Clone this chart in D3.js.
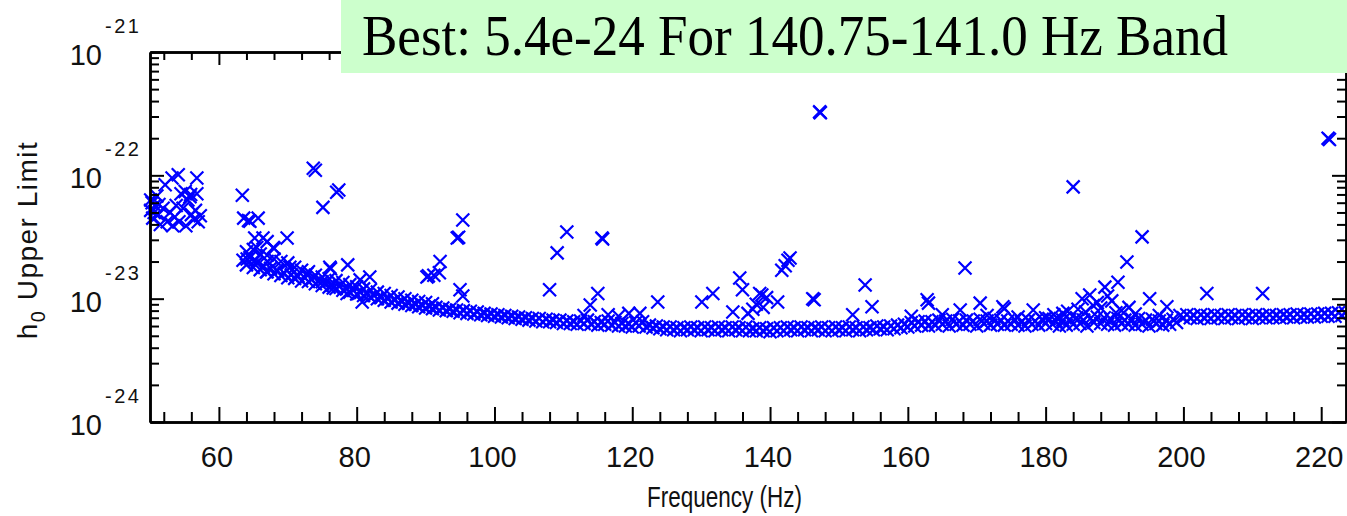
<!DOCTYPE html>
<html>
<head>
<meta charset="utf-8">
<script src="https://cdn.jsdelivr.net/npm/d3@7"></script>
<style>
  body { margin: 0; background: #fff; }
  svg { display: block; font-family: "Liberation Sans", Arial, sans-serif; }
</style>
</head>
<body>
<svg id="chart" width="1347" height="516"></svg>
<script>
// h0 values are in units of 1e-24
const xDomain = [50, 223.6]
const yDomain = [1e-24, 1e-21]
const xMajor = [60, 80, 100, 120, 140, 160, 180, 200, 220]
const yDecades = [-24, -23, -22, -21]
const titleText = 'Best: 5.4e-24 For 140.75-141.0 Hz Band'

// 50-57 Hz cluster
const clusterFreq = [50.1, 50.1, 50.4, 50.7, 51.0, 51.2, 51.5, 51.9, 52.2, 52.5,
  52.9, 53.2, 53.3, 53.8, 54.1, 54.2, 54.5, 54.8, 55.1, 55.2,
  55.5, 55.8, 56.0, 56.4, 56.8, 56.8, 57.0, 57.3, 50.3, 50.6,
  51.3, 53.6, 55.9, 56.6]
const clusterH0 = [63, 52, 45, 57, 68, 48, 40, 54, 84, 42,
  50, 95, 39, 57, 101, 42, 71, 54, 74, 39,
  63, 67, 48, 44, 95, 71, 42, 47, 60, 50,
  58, 46, 70, 52]

// main band, one value per 0.5 Hz from 63.5 Hz
const bandStart = 63.5
const bandStep = 0.5
const bandH0 = [
  20.5, 18.8, 21.5, 17.9, 19.6, 17.2, 18.4, 16.5, 17.6, 15.9,
  16.8, 15.4, 16.1, 14.8, 15.6, 14.6, 15.2, 13.9, 14.7, 13.8,
  14.3, 13.2, 13.9, 12.8, 13.4, 12.4, 12.9, 12.1, 12.6, 11.7,
  12.0, 11.3, 11.7, 10.9, 11.2, 10.6, 10.9, 10.3, 10.6, 10.0,
  10.2, 9.7, 10.0, 9.4, 9.7, 9.2, 9.5, 9.0, 9.2, 8.8,
  9.0, 8.6, 8.8, 8.4, 8.7, 8.3, 8.5, 8.1, 8.4, 8.0,
  8.2, 7.9, 8.1, 7.7, 8.0, 7.6, 7.9, 7.5, 7.8, 7.4,
  7.6, 7.3, 7.5, 7.2, 7.4, 7.1, 7.3, 7.0, 7.2, 6.9,
  7.1, 6.8, 7.0, 6.7, 6.9, 6.6, 6.9, 6.5, 6.8, 6.5,
  6.7, 6.4, 6.7, 6.3, 6.6, 6.3, 6.5, 6.2, 6.6, 6.3,
  6.7, 6.2, 6.5, 6.1, 6.4, 6.2, 6.6, 6.1, 6.4, 6.0,
  6.3, 6.0, 6.2, 5.9, 6.4, 6.0, 6.5, 5.9, 6.1, 5.8,
  6.0, 5.7, 5.9, 5.6, 5.9, 5.6, 5.8, 5.5, 5.8, 5.6,
  5.9, 5.6, 5.8, 5.5, 5.9, 5.6, 5.8, 5.5, 5.9, 5.6,
  5.8, 5.5, 5.9, 5.6, 5.8, 5.5, 5.9, 5.5, 5.7, 5.5,
  5.8, 5.5, 5.7, 5.4, 5.8, 5.5, 5.8, 5.5, 5.9, 5.6,
  5.8, 5.5, 5.9, 5.6, 5.8, 5.5, 5.8, 5.6, 5.9, 5.5,
  5.8, 5.5, 5.9, 5.6, 5.8, 5.5, 5.9, 5.6, 5.8, 5.5,
  5.9, 5.6, 5.8, 5.6, 6.0, 5.7, 5.9, 5.6, 6.0, 5.7,
  6.1, 5.8, 6.2, 5.9, 6.4, 6.0, 6.5, 6.1, 6.6, 6.0,
  6.5, 6.1, 6.7, 6.2, 6.6, 6.0, 6.8, 6.2, 6.6, 6.1,
  6.7, 6.2, 6.6, 6.0, 6.8, 6.3, 6.6, 6.1, 6.9, 6.2,
  6.7, 6.1, 6.6, 6.2, 6.8, 6.1, 6.5, 6.0, 6.7, 6.2,
  6.6, 6.1, 6.8, 6.3, 6.9, 6.2, 6.6, 6.0, 6.7, 6.1,
  6.8, 6.2, 7.0, 6.3, 6.7, 6.0, 6.9, 6.4, 7.1, 6.3,
  7.0, 6.2, 6.8, 6.1, 6.9, 6.3, 6.7, 6.2, 6.8, 6.1,
  6.9, 6.2, 6.7, 6.0, 6.8, 6.3, 6.6, 6.1, 6.7, 6.2,
  6.8, 6.4, 7.3, 7.0, 7.4, 7.0, 7.3, 6.9, 7.4, 7.0,
  7.3, 6.9, 7.4, 7.0, 7.3, 6.9, 7.4, 7.0, 7.3, 6.9,
  7.4, 7.0, 7.3, 6.9, 7.4, 7.0, 7.3, 7.0, 7.4, 7.0,
  7.3, 7.0, 7.4, 7.1, 7.4, 7.0, 7.5, 7.1, 7.4, 7.1,
  7.5, 7.1, 7.5, 7.2, 7.6, 7.2, 7.6, 7.2, 7.7, 7.3,
  7.7
]

// looser points just above the band
const cloudFreq = [
  64.0, 65.0, 66.0, 67.0, 68.0, 69.0, 70.0, 71.0, 72.0, 73.0,
  74.0, 75.0, 76.0, 77.0, 78.0, 79.0, 80.0, 81.0, 82.0, 83.0,
  84.0, 85.0, 86.0, 87.0, 88.0, 89.0, 90.0, 91.0,
  113.0, 116.5, 118.0, 119.5,
  160.5, 165.0, 171.5, 176.0, 180.0, 182.5, 185.8, 188.0, 190.2, 193.0,
  196.5
]
const cloudH0 = [
  24, 25, 23, 22.5, 21, 20, 19.5, 18, 17, 16.5,
  15.5, 15, 14.5, 14, 13.5, 13, 12.5, 12, 11.8, 11.3,
  11, 10.6, 10.3, 10, 9.7, 9.5, 9.3, 9.1,
  7.3, 7.4, 7.2, 7.6,
  7.2, 7.4, 7.3, 7.1, 7.0, 7.6, 7.8, 8.4, 7.7, 7.5,
  7.3
]

// points off the band
const outlierFreq = [
  63.4, 63.6, 64.3, 64.5, 65.7, 65.2, 66.4, 67.0, 69.9, 67.9,
  68.0, 65.5, 64.1, 65.3, 67.0, 66.9, 68.4, 70.3, 71.3, 72.8,
  73.7, 76.1, 76.2, 78.7, 75.0, 76.6, 78.6, 80.5, 81.9, 80.8,
  73.7, 74.0, 77.1, 77.4, 75.1, 90.2, 90.4, 92.0, 95.4, 94.6,
  94.8, 92.1, 91.2, 95.0, 95.4,
  110.5, 109.1, 115.6, 115.7, 108.0, 115.0, 113.9, 123.7, 131.7, 130.1,
  121.1,
  147.2, 147.3, 142.9, 142.6, 141.7, 142.2, 135.6, 136.0, 138.5, 138.8,
  139.5, 138.0, 141.1, 134.6, 146.2, 146.4, 153.8, 154.8, 152.0, 137.5,
  139.0, 136.8,
  168.3, 162.8, 163.0, 167.6, 170.5, 173.8, 174.0, 178.2, 184.0, 194.0,
  191.8, 190.5, 188.6, 186.4, 185.3, 195.1, 197.6, 203.4, 211.5, 221.0,
  221.2, 189.0, 187.5, 186.9, 189.6, 184.7, 192.1, 183.2, 181.2, 181.6,
  191.0
]
const outlierH0 = [
  69, 45, 43, 42.5, 45, 31, 31, 29, 31, 26,
  25.5, 26, 21, 20.5, 20, 16.5, 17, 18, 15.5, 16,
  15, 18, 17.5, 18.8, 13.7, 12.2, 11, 14.2, 15, 9.4,
  114, 110, 73, 76, 55, 15, 15.3, 16.2, 43.5, 31,
  31.5, 20, 15.5, 11.8, 10.5,
  34.7, 23.5, 31, 30.5, 11.8, 11, 8.9, 9.4, 11, 9.4,
  7.6,
  327, 322, 21.4, 20.5, 17, 18.5, 14.7, 11.8, 11, 10.7,
  10.2, 9.0, 9.4, 7.8, 10, 9.8, 12.9, 8.6, 7.4, 8.2,
  8.5, 7.6,
  17.7, 9.8, 9.2, 8.1, 9.2, 8.6, 8.3, 8.1, 80.6, 31.7,
  19.8, 13.6, 12.4, 10.7, 10, 10, 8.6, 11, 11, 200,
  195, 10.5, 9.3, 8.8, 9.6, 8.2, 8.5, 7.9, 7.4, 7.0,
  8.0
]

const svg = d3.select('#chart')
const plotLeft = 150, plotRight = 1346, plotTop = 52, plotBottom = 422

const x = d3.scaleLinear().domain(xDomain).range([plotLeft, plotRight])
const y = d3.scaleLog().domain(yDomain).range([plotBottom, plotTop])

const points = [
  ...clusterFreq.map((f, i) => ({ f, h: clusterH0[i] })),
  ...bandH0.map((h, i) => ({ f: bandStart + i * bandStep, h })),
  ...cloudFreq.map((f, i) => ({ f, h: cloudH0[i] })),
  ...outlierFreq.map((f, i) => ({ f, h: outlierH0[i] }))
]

svg.append('g')
  .selectAll('path')
  .data(points)
  .join('path')
    .attr('transform', d => `translate(${x(d.f)},${y(d.h * 1e-24)})`)
    .attr('d', 'M-6.5,-6.5L6.5,6.5M-6.5,6.5L6.5,-6.5')
    .attr('fill', 'none')
    .attr('stroke', '#0000ff')
    .attr('stroke-width', 2.2)

// tick positions
const xMinor = d3.range(52, 224, 4).filter(v => !xMajor.includes(v))
const yMajor = yDecades.map(d => Math.pow(10, d))
const yMinor = []
yDecades.slice(0, -1).forEach(d => {
  for (let m = 2; m <= 9; m++) yMinor.push(m * Math.pow(10, d))
})

const styleAxis = g => {
  g.select('.domain').attr('stroke', '#000').attr('stroke-width', 2.5)
  g.selectAll('.tick line').attr('stroke', '#000').attr('stroke-width', 2)
  g.selectAll('.tick text').remove()
}
const drawAxis = (axis, tx, ty) =>
  svg.append('g').attr('transform', `translate(${tx},${ty})`).call(axis).call(styleAxis)

drawAxis(d3.axisBottom(x).tickValues(xMinor).tickSize(-10).tickSizeOuter(0), 0, plotBottom)
drawAxis(d3.axisBottom(x).tickValues(xMajor).tickSize(-15).tickSizeOuter(0), 0, plotBottom)
drawAxis(d3.axisTop(x).tickValues(xMinor).tickSize(-8).tickSizeOuter(0), 0, plotTop)
drawAxis(d3.axisTop(x).tickValues(xMajor).tickSize(-13).tickSizeOuter(0), 0, plotTop)
drawAxis(d3.axisLeft(y).tickValues(yMinor).tickSize(-9).tickSizeOuter(0), plotLeft, 0)
drawAxis(d3.axisLeft(y).tickValues(yMajor).tickSize(-14).tickSizeOuter(0), plotLeft, 0)
drawAxis(d3.axisRight(y).tickValues(yMinor).tickSize(-9).tickSizeOuter(0), plotRight, 0)
drawAxis(d3.axisRight(y).tickValues(yMajor).tickSize(-14).tickSizeOuter(0), plotRight, 0)

// x tick labels
svg.append('g')
  .selectAll('text')
  .data(xMajor)
  .join('text')
    .attr('x', d => x(d) - 2)
    .attr('y', plotBottom + 45)
    .attr('text-anchor', 'middle')
    .attr('font-size', 29)
    .attr('fill', '#111')
    .text(d => d)

// y tick labels, 10 with exponent
const yLab = svg.append('g')
  .selectAll('g')
  .data(yDecades)
  .join('g')
yLab.append('text')
  .attr('x', 102)
  .attr('y', d => y(Math.pow(10, d)) + 13)
  .attr('text-anchor', 'end')
  .attr('font-size', 29)
  .attr('fill', '#111')
  .text('10')
yLab.append('text')
  .attr('x', 105)
  .attr('y', d => y(Math.pow(10, d)) - 19)
  .attr('font-size', 20)
  .attr('letter-spacing', 2.5)
  .attr('fill', '#111')
  .text(d => d)

svg.append('text')
  .attr('x', 647)
  .attr('y', 507)
  .attr('font-size', 29)
  .attr('textLength', 155)
  .attr('lengthAdjust', 'spacingAndGlyphs')
  .attr('fill', '#111')
  .text('Frequency (Hz)')

const yTitle = svg.append('text')
  .attr('transform', 'translate(37,240) rotate(-90)')
  .attr('text-anchor', 'middle')
  .attr('font-size', 28)
  .attr('letter-spacing', 1.5)
  .attr('fill', '#111')
yTitle.append('tspan').text('h')
yTitle.append('tspan').attr('dy', 8).attr('font-size', 20).text('0')
yTitle.append('tspan').attr('dy', -8).text(' Upper Limit')

// title box
svg.append('rect')
  .attr('x', 341)
  .attr('y', 0)
  .attr('width', 1006)
  .attr('height', 73)
  .attr('fill', '#ccffcc')
svg.append('text')
  .attr('x', 362)
  .attr('y', 55)
  .attr('font-family', '"Liberation Serif", "Times New Roman", serif')
  .attr('font-size', 56)
  .attr('textLength', 866)
  .attr('lengthAdjust', 'spacingAndGlyphs')
  .attr('fill', '#000')
  .text(titleText)
</script>
</body>
</html>
